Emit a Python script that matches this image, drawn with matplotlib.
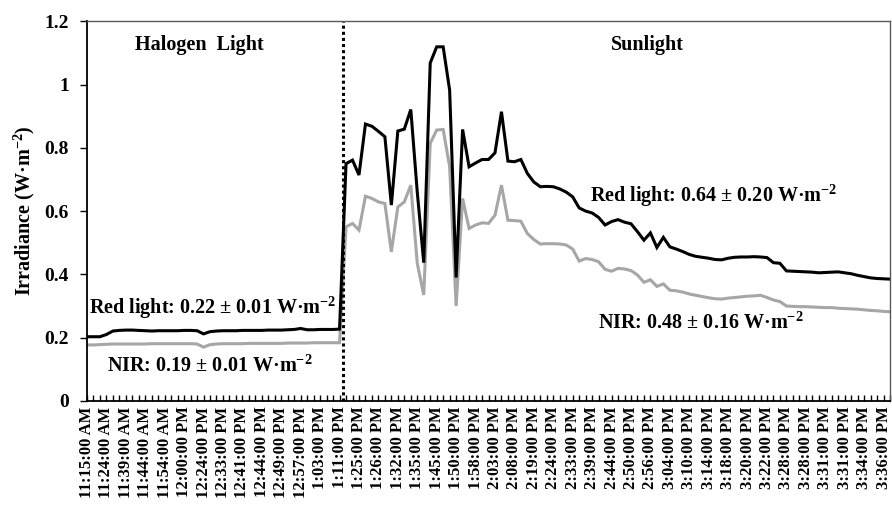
import numpy as np
import matplotlib
matplotlib.use("Agg")
from matplotlib import pyplot as plt
from matplotlib.ticker import FixedLocator, FuncFormatter

plt.rcParams['font.family'] = ['Liberation Serif', 'DejaVu Serif']
plt.rcParams['font.weight'] = 'bold'
plt.rcParams['mathtext.fontset'] = 'custom'
plt.rcParams['mathtext.rm'] = 'Liberation Serif:bold'
plt.rcParams['mathtext.bf'] = 'Liberation Serif:bold'
plt.rcParams['mathtext.it'] = 'Liberation Serif:bold:italic'

# 数据: 每个时间点的辐照度 (红光 / 近红外)
red_halogen = [0.203, 0.203, 0.203, 0.21, 0.221, 0.223, 0.224, 0.224, 0.223, 0.222,
               0.221, 0.222, 0.222, 0.222, 0.222, 0.223, 0.223, 0.222, 0.212, 0.219,
               0.221, 0.222, 0.222, 0.222, 0.223, 0.223, 0.223, 0.223, 0.224, 0.224,
               0.224, 0.225, 0.226, 0.229, 0.225, 0.225, 0.226, 0.226, 0.226, 0.227]
red_sun = [0.75, 0.761, 0.714, 0.875, 0.868, 0.852, 0.835, 0.619, 0.853, 0.859,
           0.921, 0.66, 0.437, 1.068, 1.119, 1.119, 0.982, 0.39, 0.858, 0.74,
           0.752, 0.763, 0.763, 0.784, 0.914, 0.758, 0.756, 0.763, 0.719, 0.692,
           0.677, 0.678, 0.677, 0.67, 0.66, 0.645, 0.61, 0.60, 0.594, 0.58,
           0.556, 0.567, 0.573, 0.565, 0.56, 0.535, 0.508, 0.531, 0.485, 0.517,
           0.487, 0.48, 0.472, 0.463, 0.457, 0.454, 0.451, 0.447, 0.446, 0.451,
           0.454, 0.455, 0.455, 0.456, 0.455, 0.453, 0.437, 0.435, 0.411, 0.41,
           0.409, 0.408, 0.407, 0.405, 0.406, 0.407, 0.408, 0.405, 0.402, 0.397,
           0.393, 0.389, 0.387, 0.386, 0.385]
nir_halogen = [0.177, 0.177, 0.178, 0.179, 0.18, 0.18, 0.18, 0.18, 0.18, 0.18,
               0.181, 0.181, 0.181, 0.181, 0.181, 0.181, 0.181, 0.18, 0.17, 0.178,
               0.18, 0.181, 0.181, 0.181, 0.181, 0.182, 0.182, 0.182, 0.182, 0.182,
               0.182, 0.183, 0.183, 0.183, 0.183, 0.184, 0.184, 0.184, 0.184, 0.184]
nir_sun = [0.55, 0.561, 0.54, 0.647, 0.64, 0.629, 0.624, 0.471, 0.613, 0.629,
           0.682, 0.435, 0.335, 0.814, 0.856, 0.858, 0.74, 0.30, 0.64, 0.545,
           0.556, 0.563, 0.561, 0.587, 0.682, 0.571, 0.57, 0.568, 0.529, 0.51,
           0.496, 0.497, 0.497, 0.496, 0.493, 0.48, 0.442, 0.45, 0.447, 0.44,
           0.416, 0.41, 0.419, 0.417, 0.412, 0.398, 0.375, 0.383, 0.362, 0.37,
           0.35, 0.348, 0.344, 0.338, 0.334, 0.33, 0.326, 0.323, 0.322, 0.325,
           0.327, 0.329, 0.331, 0.332, 0.334, 0.327, 0.319, 0.314, 0.30, 0.299,
           0.298, 0.298, 0.297, 0.296, 0.295, 0.295, 0.293, 0.292, 0.291, 0.29,
           0.288, 0.286, 0.285, 0.283, 0.282]

time_labels = ['11:15:00 AM', '11:24:00 AM', '11:39:00 AM', '11:44:00 AM', '11:54:00 AM',
               '12:00:00 PM', '12:24:00 PM', '12:33:00 PM', '12:41:00 PM', '12:44:00 PM',
               '12:49:00 PM', '12:57:00 PM', '1:03:00 PM', '1:11:00 PM', '1:25:00 PM',
               '1:26:00 PM', '1:32:00 PM', '1:35:00 PM', '1:45:00 PM', '1:50:00 PM',
               '1:58:00 PM', '2:03:00 PM', '2:08:00 PM', '2:19:00 PM', '2:24:00 PM',
               '2:33:00 PM', '2:39:00 PM', '2:44:00 PM', '2:50:00 PM', '2:56:00 PM',
               '3:04:00 PM', '3:10:00 PM', '3:14:00 PM', '3:18:00 PM', '3:20:00 PM',
               '3:22:00 PM', '3:28:00 PM', '3:28:00 PM', '3:31:00 PM', '3:31:00 PM',
               '3:34:00 PM', '3:36:00 PM']
label_step = 3

red = red_halogen + red_sun
nir = nir_halogen + nir_sun
n = len(red)
x = np.arange(n)
switch_at = len(red_halogen) - 0.5

fig = plt.figure(figsize=(8.92, 5.05), dpi=100)
ax = fig.add_axes([0.0975, 0.206, 0.9003, 0.752])

ax.plot(x, nir, color='#a6a6a6', lw=2.2, solid_joinstyle='miter')
ax.plot(x, red, color='black', lw=2.2, solid_joinstyle='miter')
ax.axvline(switch_at, color='black', lw=2.2, ls=(0, (1, 1)))

ax.set_xlim(0, n - 1)
ax.set_ylim(0, 1.2)

ax.set_yticks(np.arange(0, 1.21, 0.2))
ax.yaxis.set_major_formatter(FuncFormatter(lambda v, p: f"{v:g}"))
ax.tick_params(axis='y', direction='out', length=5, width=1, labelsize=14, pad=8)

ax.xaxis.set_major_locator(FixedLocator(np.arange(0, label_step * len(time_labels), label_step)))
ax.set_xticklabels(time_labels, rotation=90, fontsize=12, fontweight='bold')
ax.xaxis.set_minor_locator(FixedLocator(x))
ax.tick_params(axis='x', which='both', direction='in', length=4, width=1, pad=4)

for s in ['left', 'bottom']:
    ax.spines[s].set_color('black')
    ax.spines[s].set_linewidth(1.3)
for s in ['top', 'right']:
    ax.spines[s].set_color('#595959')
    ax.spines[s].set_linewidth(1.0)

ax.set_ylabel('Irradiance (W·m$^{-2}$)', fontsize=14.5, fontweight='bold', labelpad=5)

fs = 14.5
ax.text(17.4, 1.124, 'Halogen  Light', ha='center', va='center', fontsize=fs, fontweight='bold')
ax.text(86.6, 1.124, 'Sunlight', ha='center', va='center', fontsize=fs, fontweight='bold')
ax.text(19.4, 0.294, 'Red light: 0.22 ± 0.01 W·m$^{-2}$', ha='center', va='center',
        fontsize=fs, fontweight='bold')
ax.text(19.0, 0.11, 'NIR: 0.19 ± 0.01 W·m$^{-2}$', ha='center', va='center',
        fontsize=fs, fontweight='bold')
ax.text(96.7, 0.647, 'Red light: 0.64 ± 0.20 W·m$^{-2}$', ha='center', va='center',
        fontsize=fs, fontweight='bold')
ax.text(94.7, 0.246, 'NIR: 0.48 ± 0.16 W·m$^{-2}$', ha='center', va='center',
        fontsize=fs, fontweight='bold')

fig.savefig('out.png', dpi=100)
